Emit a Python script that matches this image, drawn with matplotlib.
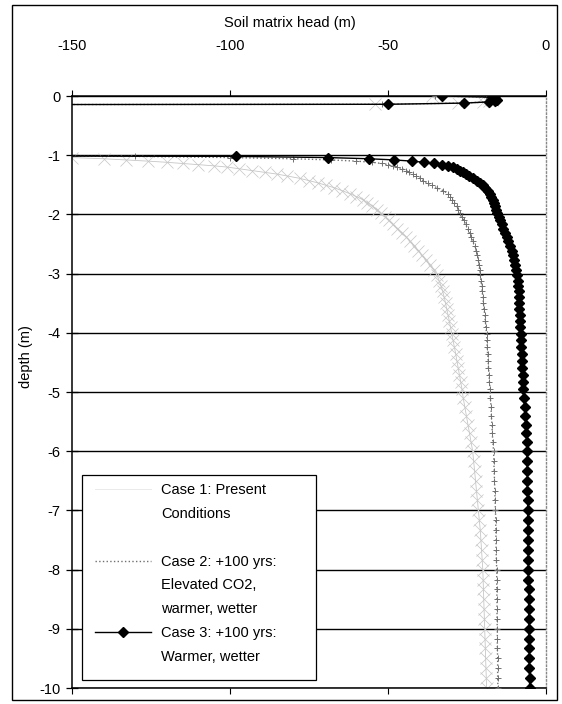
import matplotlib
matplotlib.use("Agg")
import matplotlib.pyplot as plt
from matplotlib.lines import Line2D
from matplotlib.patches import Rectangle

plt.rcParams['font.family'] = ['Liberation Sans', 'DejaVu Sans']
plt.rcParams['axes.unicode_minus'] = False

# depth of each model node (m)
depth = [
    0.00, -0.02, -0.04, -0.06, -0.08, -0.10, -0.12, -0.14,
    -0.15, -1.00,
    -1.02, -1.04, -1.06, -1.08, -1.10, -1.12, -1.14, -1.16, -1.18, -1.20,
    -1.23, -1.26, -1.29, -1.32, -1.35, -1.39, -1.43, -1.47, -1.51, -1.55,
    -1.60, -1.65, -1.70, -1.75, -1.80, -1.86, -1.92, -1.98, -2.04, -2.10,
    -2.17, -2.24, -2.31, -2.38, -2.45, -2.53, -2.61, -2.69, -2.77, -2.85,
    -2.94, -3.03, -3.12, -3.21, -3.30, -3.40, -3.50, -3.60, -3.70, -3.80,
    -3.91, -4.02, -4.13, -4.24, -4.35, -4.47, -4.59, -4.71, -4.83, -4.95,
    -5.10, -5.25, -5.40, -5.55, -5.70, -5.85, -6.00,
    -6.17, -6.33, -6.50, -6.67, -6.83, -7.00, -7.17, -7.33, -7.50, -7.67, -7.83, -8.00,
    -8.17, -8.33, -8.50, -8.67, -8.83, -9.00, -9.17, -9.33, -9.50, -9.67, -9.83, -10.00,
]

# soil matrix head (m), case 1: present conditions
head_case1 = [
    -36, -20, -18, -17, -18, -20, -28, -54,
    -300, -300,
    -170, -150, -140, -133, -126, -120, -115, -110, -105, -101,
    -97, -93, -89, -85, -82, -78, -75, -72, -69.5, -67,
    -64.5, -62, -60, -58, -56.5, -55, -53.5, -52.2, -51, -49.7,
    -48.3, -47, -45.5, -44.2, -43, -41.7, -40.4, -39.2, -38, -36.8,
    -35.5, -34.5, -33.8, -33.2, -32.7, -32.2, -31.8, -31.4, -31.0, -30.6,
    -30.2, -29.8, -29.4, -29.0, -28.6, -28.2, -27.8, -27.4, -27.0, -26.6,
    -26.2, -25.7, -25.2, -24.7, -24.2, -23.7, -23.2,
    -22.9, -22.6, -22.3, -22.0, -21.7, -21.4, -21.1, -20.8, -20.6, -20.4, -20.2, -20.0,
    -19.9, -19.8, -19.7, -19.6, -19.5, -19.4, -19.3, -19.2, -19.1, -19.0, -18.9, -18.8,
]

# case 2: +100 yrs, elevated CO2, warmer, wetter
head_case2 = [
    -35, -19, -17, -16.5, -17, -19, -27, -52,
    -300, -300,
    -130, -100, -80, -68, -60, -55, -52, -50, -48.5, -47,
    -45.5, -44.2, -43.2, -42.2, -41.2, -40, -38.8, -37.5, -36, -34.5,
    -32.5, -31.0, -30.3, -29.6, -29.0, -28.3, -27.7, -27.1, -26.5, -26.0,
    -25.4, -24.8, -24.2, -23.7, -23.2, -22.6, -22.1, -21.7, -21.4, -21.2,
    -21.0, -20.8, -20.6, -20.4, -20.2, -20.0, -19.8, -19.6, -19.4, -19.2,
    -19.0, -18.8, -18.7, -18.6, -18.5, -18.3, -18.2, -18.0, -17.9, -17.7,
    -17.6, -17.4, -17.3, -17.1, -17.0, -16.8, -16.6,
    -16.5, -16.4, -16.3, -16.2, -16.1, -16.0, -15.9, -15.9, -15.8, -15.8, -15.7, -15.6,
    -15.6, -15.6, -15.5, -15.5, -15.5, -15.4, -15.4, -15.4, -15.3, -15.3, -15.3, -15.2,
]

# case 3: +100 yrs, warmer, wetter
head_case3 = [
    -33, -17, -16, -15.5, -16, -18, -26, -50,
    -300, -300,
    -98, -69, -56, -48, -42.5, -38.5, -35.3, -33, -31, -29.5,
    -28.2, -27.2, -26.2, -25.3, -24.3, -23.0, -21.8, -20.8, -20.0, -19.2,
    -18.4, -17.8, -17.3, -16.9, -16.5, -16.1, -15.8, -15.4, -15.0, -14.5,
    -14.0, -13.5, -13.0, -12.5, -12.0, -11.4, -10.9, -10.5, -10.1, -9.8,
    -9.5, -9.2, -9.0, -8.8, -8.7, -8.6, -8.5, -8.4, -8.3, -8.2,
    -8.1, -8.0, -7.9, -7.8, -7.7, -7.6, -7.5, -7.4, -7.3, -7.2,
    -7.0, -6.8, -6.6, -6.4, -6.2, -6.1, -6.0,
    -6.0, -5.9, -5.9, -5.9, -5.8, -5.8, -5.8, -5.7, -5.7, -5.7, -5.6, -5.6,
    -5.6, -5.5, -5.5, -5.5, -5.4, -5.4, -5.4, -5.3, -5.3, -5.3, -5.2, -5.2,
]

x_ticks = [-150, -100, -50, 0]
y_ticks = list(range(0, -11, -1))

W, H = 562, 704
fig = plt.figure(figsize=(W / 100, H / 100), dpi=100)
ax = fig.add_axes([72 / W, 1 - 688 / H, 474 / W, 592 / H])

ax.plot(head_case1, depth, color='#c6c6c6', lw=0.6, marker='x', ms=8, mew=0.5,
        zorder=2)
ax.plot(head_case2, depth, color='#707070', lw=1.0, ls=':', marker='+', ms=4,
        mew=0.7, zorder=3)
ax.plot(head_case3, depth, color='black', lw=1.0, marker='D', ms=5.5, zorder=4)

ax.set_xlim(-150, 0)
ax.set_ylim(-10, 0)
ax.set_xticks(x_ticks)
ax.set_yticks(y_ticks)
ax.set_yticklabels([str(v) for v in y_ticks])

for v in y_ticks:
    ax.axhline(v, color='black', lw=1.0, zorder=1)

ax.tick_params(axis='x', top=True, bottom=True, labeltop=True, labelbottom=False,
               direction='out', length=4, width=0.8, labelsize=10.5, pad=27)
ax.tick_params(axis='y', direction='inout', length=9, width=0.9, labelsize=10.5, pad=4)

for s in ['left', 'bottom', 'top']:
    ax.spines[s].set_color('black')
    ax.spines[s].set_linewidth(1.1)
ax.spines['right'].set_color('#888888')
ax.spines['right'].set_linestyle(':')
ax.spines['right'].set_linewidth(1.0)

ax.set_ylabel('depth (m)', fontsize=10.5)
ax.yaxis.set_label_coords(-0.083, 0.56)

fig.text(0.516, 1 - 23 / H, 'Soil matrix head (m)', ha='center', va='center',
         fontsize=10.5)

# legend box drawn separately so the entries can sit at the top like the original
ax.add_patch(Rectangle((82 / W, 1 - 680 / H), 234 / W, 205 / H,
                       transform=fig.transFigure, facecolor='white',
                       edgecolor='black', lw=0.9, zorder=5, clip_on=False))

blank = Line2D([], [], linestyle='none')
handles = [
    Line2D([], [], color='#e6e6e6', lw=0.6),
    blank, blank,
    Line2D([], [], color='#707070', lw=1.0, ls=':'),
    blank, blank,
    Line2D([], [], color='black', lw=1.0, marker='D', ms=5),
    blank,
]
labels = ['Case 1: Present', 'Conditions', '',
          'Case 2: +100 yrs:', 'Elevated CO2,', 'warmer, wetter',
          'Case 3: +100 yrs:', 'Warmer, wetter']
leg = ax.legend(handles, labels, loc='upper left',
                bbox_to_anchor=(91 / W, 1 - 479 / H), bbox_transform=fig.transFigure,
                borderaxespad=0, fontsize=10.5, frameon=False,
                handlelength=3.8, handletextpad=0.7,
                labelspacing=0.67, borderpad=0.3)
leg.set_zorder(6)

fig.patches.append(Rectangle((12 / W, 4 / H), 545 / W, 695 / H,
                             transform=fig.transFigure, fill=False,
                             edgecolor='black', lw=1.0))

fig.savefig('out.png', dpi=100)
